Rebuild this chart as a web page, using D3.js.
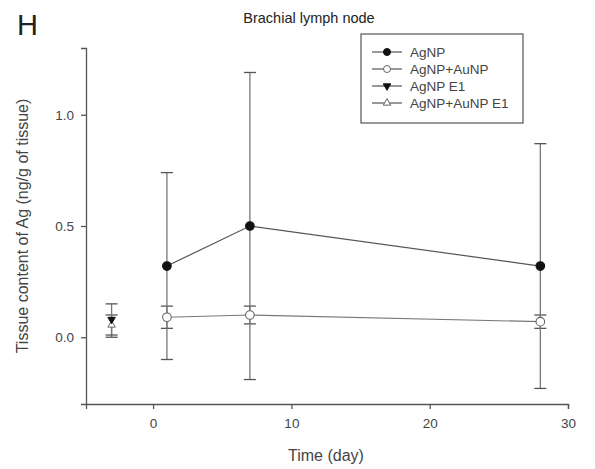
<!DOCTYPE html>
<html>
<head>
<meta charset="utf-8">
<script src="https://cdn.jsdelivr.net/npm/d3@7"></script>
<style>
body { margin: 0; background: #fff; }
svg text { font-family: Arial, "Liberation Sans", sans-serif; }
</style>
</head>
<body>
<div id="chart"></div>
<script>
// data
var days = [1, 7, 28];
var agnp = [0.32, 0.50, 0.32];
var agnpHi = [0.74, 1.19, 0.87];
var agnpLo = [-0.10, -0.19, -0.23];
var agau = [0.09, 0.10, 0.07];
var agauHi = [0.14, 0.14, 0.10];
var agauLo = [0.04, 0.06, 0.04];
var e1Day = [-3];
var agnpE1 = [0.08];
var agnpE1Hi = [0.15];
var agnpE1Lo = [0.01];
var agauE1 = [0.055];
var agauE1Hi = [0.10];
var agauE1Lo = [0.0];
var xTicks = [0, 10, 20, 30];
var yTicks = [0.0, 0.5, 1.0];
var legendLabels = ["AgNP", "AgNP+AuNP", "AgNP E1", "AgNP+AuNP E1"];

var width = 595, height = 469;
var margin = {left: 86, right: 27, top: 48, bottom: 65};

var svg = d3.select("#chart").append("svg")
    .attr("width", width)
    .attr("height", height);

var x = d3.scaleLinear().domain([-4.85, 30]).range([margin.left, width - margin.right]);
var y = d3.scaleLinear().domain([-0.3, 1.3]).range([height - margin.bottom, margin.top]);

var axisColor = "#555";
var textColor = "#444";

// axes
var xAxis = svg.append("g")
    .attr("transform", "translate(0," + (height - margin.bottom) + ")")
    .call(d3.axisBottom(x).tickValues(xTicks).tickFormat(d3.format("d")).tickSizeOuter(0).tickSize(5).tickPadding(9));
var yAxis = svg.append("g")
    .attr("transform", "translate(" + margin.left + ",0)")
    .call(d3.axisLeft(y).tickValues(yTicks).tickFormat(d3.format(".1f")).tickSizeOuter(0).tickSize(5).tickPadding(7));
[xAxis, yAxis].forEach(function(a) {
    a.select(".domain").attr("stroke", axisColor).attr("stroke-width", 1.3);
    a.selectAll(".tick line").attr("stroke", axisColor).attr("stroke-width", 1.3);
    a.selectAll(".tick text").attr("fill", textColor).style("font-size", "13.5px");
});

// labels
svg.append("text").attr("x", 17).attr("y", 35).text("H")
    .style("font-size", "29px").attr("fill", "#222");
svg.append("text").attr("x", 309).attr("y", 23).attr("text-anchor", "middle")
    .text("Brachial lymph node").style("font-size", "14.5px").attr("fill", "#222");
svg.append("text").attr("x", x(12.5)).attr("y", 461).attr("text-anchor", "middle")
    .text("Time (day)").style("font-size", "16px").attr("fill", textColor);
svg.append("text")
    .attr("transform", "translate(28," + y(0.5) + ") rotate(-90)")
    .attr("text-anchor", "middle")
    .text("Tissue content of Ag (ng/g of tissue)")
    .style("font-size", "16px").attr("fill", textColor);

var barColor = "#777";
var capW = 6;

function errorBars(xs, lo, hi) {
    xs.forEach(function(d, i) {
        var cx = x(d);
        svg.append("line").attr("x1", cx).attr("x2", cx)
            .attr("y1", y(lo[i])).attr("y2", y(hi[i]))
            .attr("stroke", barColor).attr("stroke-width", 1.3);
        [lo[i], hi[i]].forEach(function(v) {
            svg.append("line").attr("x1", cx - capW).attr("x2", cx + capW)
                .attr("y1", y(v)).attr("y2", y(v))
                .attr("stroke", "#555").attr("stroke-width", 1.3);
        });
    });
}

var line = d3.line().x(function(d) { return x(d[0]); }).y(function(d) { return y(d[1]); });

// series lines
svg.append("path").datum(d3.zip(days, agau)).attr("d", line)
    .attr("fill", "none").attr("stroke", "#777").attr("stroke-width", 1.2);
svg.append("path").datum(d3.zip(days, agnp)).attr("d", line)
    .attr("fill", "none").attr("stroke", "#555").attr("stroke-width", 1.2);

errorBars(days, agauLo, agauHi);
errorBars(days, agnpLo, agnpHi);
errorBars(e1Day, agauE1Lo, agauE1Hi);
errorBars(e1Day, agnpE1Lo, agnpE1Hi);

var triUp = d3.symbol().type(d3.symbolTriangle).size(24);

function circles(xs, vs, fill) {
    svg.selectAll(null).data(d3.zip(xs, vs)).enter().append("circle")
        .attr("cx", function(d) { return x(d[0]); })
        .attr("cy", function(d) { return y(d[1]); })
        .attr("r", 4.3)
        .attr("fill", fill).attr("stroke", fill === "#fff" ? "#666" : "#111").attr("stroke-width", 1.1);
}
circles(days, agau, "#fff");
circles(days, agnp, "#111");

svg.selectAll(null).data(d3.zip(e1Day, agauE1)).enter().append("path")
    .attr("d", triUp)
    .attr("transform", function(d) { return "translate(" + x(d[0]) + "," + y(d[1]) + ")"; })
    .attr("fill", "#fff").attr("stroke", "#666").attr("stroke-width", 1);
svg.selectAll(null).data(d3.zip(e1Day, agnpE1)).enter().append("path")
    .attr("d", triUp)
    .attr("transform", function(d) { return "translate(" + x(d[0]) + "," + y(d[1]) + ") rotate(180)"; })
    .attr("fill", "#111").attr("stroke", "#111").attr("stroke-width", 1);

// legend
var lg = svg.append("g").attr("transform", "translate(361,34)");
lg.append("rect").attr("width", 162).attr("height", 89)
    .attr("fill", "#fff").attr("stroke", "#555").attr("stroke-width", 1.2);
var markers = [
    function(g) { g.append("circle").attr("r", 3.5).attr("fill", "#111").attr("stroke", "#111"); },
    function(g) { g.append("circle").attr("r", 3.5).attr("fill", "#fff").attr("stroke", "#666"); },
    function(g) { g.append("path").attr("d", triUp).attr("transform", "rotate(180)").attr("fill", "#111").attr("stroke", "#111"); },
    function(g) { g.append("path").attr("d", triUp).attr("fill", "#fff").attr("stroke", "#666"); }
];
legendLabels.forEach(function(lbl, i) {
    var ly = 18 + i * 17;
    lg.append("line").attr("x1", 11).attr("x2", 41).attr("y1", ly).attr("y2", ly)
        .attr("stroke", "#555").attr("stroke-width", 1.2);
    var mg = lg.append("g").attr("transform", "translate(26," + ly + ")");
    markers[i](mg);
    lg.append("text").attr("x", 49).attr("y", ly + 5).text(lbl)
        .style("font-size", "13.5px").attr("fill", textColor);
});
</script>
</body>
</html>
